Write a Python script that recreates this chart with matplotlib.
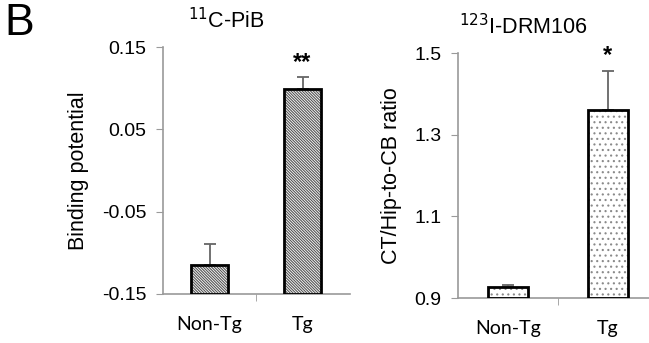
import matplotlib
matplotlib.use("Agg")
from matplotlib import pyplot as plt

# data
groups = ["Non-Tg", "Tg"]
pib_means = [-0.115, 0.099]
pib_errs = [0.026, 0.014]
pib_stars = ["", "**"]
drm_means = [0.927, 1.360]
drm_errs = [0.006, 0.097]
drm_stars = ["", "*"]

plt.rcParams["font.family"] = ["Liberation Sans", "DejaVu Sans"]
plt.rcParams["hatch.linewidth"] = 0.8

AXIS_GRAY = "#9a9a9a"
FS = 14


def draw_panel(ax, means, errs, stars, hatch, hatch_color, ylim, yticks, ylabel, title, title_x, xmax):
    xs = list(range(len(groups)))
    bottom = ylim[0]
    heights = [m - bottom for m in means]
    # hatch layer, then plain outline on top
    ax.bar(xs, heights, bottom=bottom, width=0.4, color="white",
           edgecolor=hatch_color, hatch=hatch, linewidth=0, zorder=2)
    ax.bar(xs, heights, bottom=bottom, width=0.4, fill=False,
           edgecolor="black", linewidth=2, zorder=3)
    ax.errorbar(xs, means, yerr=[[0] * len(errs), errs], fmt="none",
                ecolor="#666666", elinewidth=1.3, capsize=4, capthick=1.3, zorder=1)
    for x, m, e, s in zip(xs, means, errs, stars):
        if s:
            ax.text(x, m + e + (ylim[1] - ylim[0]) * 0.015, s, ha="center", va="bottom",
                    fontsize=17, fontweight="bold")

    ax.set_xlim(-0.5, xmax)
    ax.set_ylim(*ylim)
    ax.set_yticks(yticks)
    if ylim[0] < 0:
        ax.set_yticklabels([f"{t:.2f}" for t in yticks])
    else:
        ax.set_yticklabels([f"{t:.1f}" for t in yticks])
    ax.set_xticks(xs)
    ax.set_xticklabels(groups, family=["Lato", "DejaVu Sans"], fontsize=FS)
    ax.set_xticks([0.5], minor=True)
    ax.tick_params(axis="x", which="major", length=0, pad=16)
    ax.tick_params(axis="x", which="minor", length=5, color=AXIS_GRAY, direction="out")
    ax.tick_params(axis="y", length=5, color=AXIS_GRAY, pad=7, labelsize=FS)
    for side in ("top", "right"):
        ax.spines[side].set_visible(False)
    for side in ("left", "bottom"):
        ax.spines[side].set_color(AXIS_GRAY)
        ax.spines[side].set_linewidth(1.2)
    ax.set_ylabel(ylabel, fontsize=FS + 1.5, labelpad=9)
    ax.text(title_x, 1.0 + 14 / (ax.bbox.height), title, transform=ax.transAxes,
            ha="center", va="bottom", fontsize=FS + 1.5)


fig = plt.figure(figsize=(6.49, 3.43), dpi=100)
ax1 = fig.add_axes([0.2512, 0.1429, 0.288, 0.720])
ax2 = fig.add_axes([0.7057, 0.131, 0.2943, 0.714])

draw_panel(ax1, pib_means, pib_errs, pib_stars, "\\" * 12, "#555555",
           (-0.15, 0.15), [-0.15, -0.05, 0.05, 0.15], "Binding potential",
           r"$^{11}$C-PiB", 0.34, 1.51)
draw_panel(ax2, drm_means, drm_errs, drm_stars, "...", "#8a8a8a",
           (0.9, 1.5), [0.9, 1.1, 1.3, 1.5], "CT/Hip-to-CB ratio",
           r"$^{123}$I-DRM106", 0.34, 1.41)

fig.text(0.006, 0.99, "B", fontsize=32, ha="left", va="top")

fig.savefig("out.png", dpi=100)
